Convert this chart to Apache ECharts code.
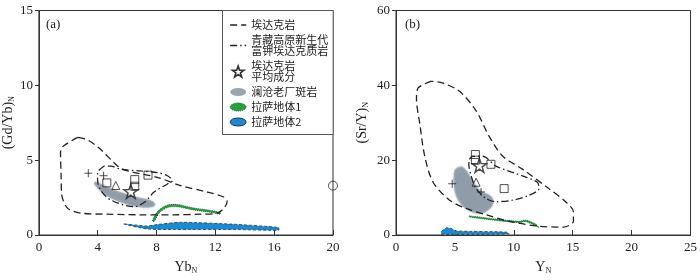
<!DOCTYPE html>
<html>
<head>
<meta charset="utf-8">
<script src="https://cdn.jsdelivr.net/npm/echarts@6/dist/echarts.min.js"></script>
<style>
  html, body { margin: 0; padding: 0; background: #fff; }
  #chart { width: 700px; height: 280px; }
</style>
</head>
<body>
<div id="chart"></div>
<script>
// ---- (a) Yb_N vs (Gd/Yb)_N ----
const adakiteA = [[2.64,6.52],[1.63,5.91],[1.47,5.48],[1.51,3.96],[1.56,2.65],[1.96,1.78],[2.87,1.46],[4.67,1.39],[6.93,1.35],[9.19,1.35],[10.99,1.39],[12.12,1.46],[12.57,1.78],[12.8,2.22],[12.57,2.54],[11.45,2.87],[9.64,3.3],[8.06,3.85],[6.03,4.28],[5.35,4.61],[4.22,5.7],[3.32,6.35],[2.64,6.52]];
const kAdakiteA = [[4.44,4.61],[4.0,4.17],[3.99,3.7],[4.2,3.0],[4.9,2.33],[6.47,1.89],[7.2,2.2],[7.83,2.87],[8.74,3.41],[9.07,3.63],[8.74,3.96],[8.06,4.17],[6.93,4.28],[5.58,4.39],[4.9,4.6],[4.44,4.61]];
const porphyryA = [[3.81,3.52],[3.88,3.3],[4.44,2.77],[5.57,2.22],[6.93,1.89],[7.83,1.96],[7.72,2.22],[6.47,2.54],[5.12,2.98],[4.1,3.42]];
const lhasa1A = [[7.83,0.91],[8.17,1.46],[8.73,1.83],[9.41,1.89],[10.54,1.67],[11.67,1.52],[12.34,1.39],[12.3,1.5],[11.67,1.64],[10.54,1.8],[9.41,2.04],[8.7,1.98],[8.08,1.58],[7.72,0.95]];
const lhasa2A = [[5.76,0.74],[7.38,0.4],[9.19,0.37],[13.25,0.37],[16.3,0.32],[16.3,0.5],[13.25,0.72],[9.64,0.85],[8.06,0.7],[7.38,0.6]];
const avgAdakiteA = [[6.25,2.92]];
const squaresA = [[4.62,3.48],[6.52,3.7],[6.52,3.26],[7.42,4.0]];
const plusA = [[3.36,4.13],[4.4,3.96]];
const triangleA = [[5.23,3.31]];
const circleA = [[20,3.3]];

// ---- (b) Y_N vs (Sr/Y)_N ----
const adakiteB = [[3.0,41.1],[1.88,39.3],[1.74,36.4],[2.02,29.7],[2.44,21.05],[3.15,14.1],[4.55,9.3],[5.96,7.1],[7.67,5.4],[9.6,3.65],[12.13,2.35],[14.2,2.1],[15.06,3.65],[15.06,6.2],[14.4,8.9],[12.97,12.4],[10.73,17.6],[9.06,21.05],[7.92,26.3],[6.8,33.2],[5.39,38.4],[3.98,40.6],[3.0,41.1]];
const kAdakiteB = [[6.23,20.2],[6.5,21.0],[7.36,21.05],[8.49,18.4],[10.73,15.8],[12.0,14.1],[12.13,12.4],[11.29,10.6],[9.88,9.3],[8.49,8.9],[7.64,9.75],[6.8,12.4],[6.38,15.8],[6.18,18.9],[6.23,20.2]];
const porphyryB = [[5.11,17.6],[5.67,18.0],[6.38,15.0],[7.08,11.9],[8.06,10.2],[8.2,8.45],[7.78,6.7],[7.08,5.84],[5.96,7.1],[5.25,9.75],[4.97,13.2],[4.97,16.3]];
const lhasa1B = [[6.23,5.1],[8.49,4.25],[10.45,3.65],[11.0,4.0],[11.85,2.95],[12.13,2.0],[11.8,2.55],[11.0,3.6],[10.45,3.3],[8.49,3.9],[6.23,4.8]];
const lhasa2B = [[3.85,0.9],[4.27,1.93],[4.7,1.75],[5.11,1.1],[9.33,0.8],[9.6,0.3],[3.85,0.2]];
const avgAdakiteB = [[7.08,18.6]];
const squaresB = [[6.74,21.5],[6.74,20.0],[8.06,18.9],[9.18,12.4]];
const plusB = [[4.77,13.7],[7.22,11.5]];
const triangleB = [[6.8,14.1]];

const serif = "'Liberation Serif', 'Times New Roman', serif";
const cjk = "'Noto Sans CJK SC', sans-serif";
const ink = '#222';

const NAME_ADAKITE = '埃达克岩';
const NAME_KADAKITE = '青藏高原新生代\n富钾埃达克质岩';
const NAME_AVG = '埃达克岩\n平均成分';
const NAME_PORPHYRY = '澜沧老厂斑岩';
const NAME_LHASA1 = '拉萨地体1';
const NAME_LHASA2 = '拉萨地体2';

const DASH = [7, 4];
const DASHDOT = [7, 3, 1.5, 3];
const STAR = 'path://M10,0 L12.35,6.76 L19.51,6.91 L13.8,11.24 L15.88,18.09 L10,14 L4.12,18.09 L6.2,11.24 L0.49,6.91 L7.65,6.76 Z';
const PLUS = 'path://M4,0 L4,8 M0,4 L8,4';
const ELLIPSE = 'path://M0,4 A8,4 0 1,1 16,4 A8,4 0 1,1 0,4 Z';

const porphyryStyle = { fill: '#909ca7', stroke: '#a0aab3', lineWidth: 1, shadowBlur: 2, shadowColor: '#a0aab3' };
const lhasa1Style = { fill: '#25a040', stroke: '#17632a', lineWidth: 1, lineDash: [1, 1] };
const lhasa2Style = { fill: '#1a8bd0', stroke: '#1d3550', lineWidth: 0.8, lineDash: [3, 2] };

const outline = (name, pts, idx, dash) => ({
    type: 'line',
    name: name,
    xAxisIndex: idx,
    yAxisIndex: idx,
    data: pts,
    smooth: 0.3,
    symbol: 'none',
    silent: true,
    z: 4,
    itemStyle: { color: ink },
    lineStyle: { color: ink, width: 1.3, type: dash }
});

const patch = (name, pts, idx, style, smooth) => ({
    type: 'custom',
    name: name,
    xAxisIndex: idx,
    yAxisIndex: idx,
    data: pts,
    silent: true,
    z: 2,
    renderItem: (params, api) => {
        if (params.dataIndex !== 0) return null;
        return {
            type: 'polygon',
            shape: { points: pts.map(p => api.coord(p)), smooth: smooth },
            style: style
        };
    }
});

const markers = (name, pts, idx, symbol, size, width) => ({
    type: 'scatter',
    name: name,
    xAxisIndex: idx,
    yAxisIndex: idx,
    data: pts,
    symbol: symbol,
    symbolSize: size,
    clip: false,
    silent: true,
    z: 5,
    itemStyle: { color: 'rgba(255,255,255,0)', borderColor: ink, borderWidth: width || 1 }
});

const axisName = (main, sub) => '{t|' + main + '}{s|' + sub + '}';
const nameRich = {
    t: { fontFamily: serif, fontSize: 14, color: ink, lineHeight: 16 },
    s: { fontFamily: serif, fontSize: 8, color: ink, verticalAlign: 'bottom', lineHeight: 16, padding: [5, 0, 0, 0] }
};

const xAxisOf = (idx, max, interval, name) => ({
    type: 'value',
    gridIndex: idx,
    min: 0,
    max: max,
    interval: interval,
    name: name,
    nameLocation: 'middle',
    nameGap: 24,
    nameTextStyle: { rich: nameRich },
    axisLine: { onZero: false, lineStyle: { color: '#333' } },
    axisTick: { inside: true, length: 5, lineStyle: { color: '#333' } },
    axisLabel: { color: ink, fontFamily: serif, fontSize: 13, margin: 6 },
    splitLine: { show: false }
});

const yAxisOf = (idx, max, interval, name, gap) => ({
    type: 'value',
    gridIndex: idx,
    min: 0,
    max: max,
    interval: interval,
    name: name,
    nameLocation: 'middle',
    nameRotate: 90,
    nameGap: gap,
    nameTextStyle: { rich: nameRich },
    axisLine: { onZero: false, lineStyle: { color: '#333' } },
    axisTick: { inside: false, length: 4, lineStyle: { color: '#333' } },
    axisLabel: { color: ink, fontFamily: serif, fontSize: 13, margin: 6 },
    splitLine: { show: false }
});

const lineLegendItem = name => ({
    name: name,
    itemStyle: { color: 'rgba(0,0,0,0)', borderWidth: 0, opacity: 0 },
    lineStyle: { color: ink, width: 1.3 }
});

const option = {
    animation: false,
    backgroundColor: '#fff',
    title: [
        { text: '(a)', left: 46, top: 18, padding: 0, textStyle: { fontFamily: serif, fontSize: 13, fontWeight: 'normal', color: ink } },
        { text: '(b)', left: 405, top: 18, padding: 0, textStyle: { fontFamily: serif, fontSize: 13, fontWeight: 'normal', color: ink } }
    ],
    grid: [
        { left: 37.5, top: 10.5, width: 295.5, height: 230, show: true, borderColor: '#333', borderWidth: 1 },
        { left: 396, top: 10.5, width: 296.5, height: 230, show: true, borderColor: '#333', borderWidth: 1 }
    ],
    xAxis: [
        xAxisOf(0, 20, 4, axisName('Yb', 'N')),
        xAxisOf(1, 25, 5, axisName('Y', 'N'))
    ],
    yAxis: [
        yAxisOf(0, 15, 5, axisName('(Gd/Yb)', 'N'), 18),
        yAxisOf(1, 60, 20, axisName('(Sr/Y)', 'N'), 26)
    ],
    legend: {
        left: 222.5,
        top: 10.5,
        orient: 'vertical',
        selectedMode: false,
        backgroundColor: '#fff',
        borderColor: '#555',
        borderWidth: 1,
        borderRadius: 0,
        padding: [9, 5, 7, 7],
        itemGap: 4,
        itemWidth: 16,
        itemHeight: 11,
        textStyle: { fontFamily: cjk, fontSize: 11, color: ink, lineHeight: 11 },
        data: [
            lineLegendItem(NAME_ADAKITE),
            lineLegendItem(NAME_KADAKITE),
            { name: NAME_AVG, icon: STAR, itemStyle: { color: '#fff', borderColor: '#000', borderWidth: 1.6 } },
            { name: NAME_PORPHYRY, icon: ELLIPSE, itemStyle: { color: '#9aa5af', borderWidth: 0 } },
            { name: NAME_LHASA1, icon: ELLIPSE, itemStyle: { color: '#25a040', borderColor: '#17632a', borderWidth: 1, borderType: 'dotted' } },
            { name: NAME_LHASA2, icon: ELLIPSE, itemStyle: { color: '#1a8bd0', borderColor: '#1d3550', borderWidth: 1 } }
        ]
    },
    series: [
        patch(NAME_PORPHYRY, porphyryA, 0, porphyryStyle, 0.4),
        patch(NAME_LHASA1, lhasa1A, 0, lhasa1Style, 0.3),
        patch(NAME_LHASA2, lhasa2A, 0, lhasa2Style, 0.2),
        outline(NAME_ADAKITE, adakiteA, 0, DASH),
        outline(NAME_KADAKITE, kAdakiteA, 0, DASHDOT),
        markers(NAME_AVG, avgAdakiteA, 0, STAR, 14, 1.5),
        markers('squaresA', squaresA, 0, 'rect', 8),
        markers('plusA', plusA, 0, PLUS, 8),
        markers('triangleA', triangleA, 0, 'triangle', 8),
        markers('circleA', circleA, 0, 'circle', 9),

        patch(NAME_PORPHYRY, porphyryB, 1, porphyryStyle, 0.4),
        patch(NAME_LHASA1, lhasa1B, 1, lhasa1Style, 0.2),
        patch(NAME_LHASA2, lhasa2B, 1, lhasa2Style, 0.2),
        outline(NAME_ADAKITE, adakiteB, 1, DASH),
        outline(NAME_KADAKITE, kAdakiteB, 1, DASHDOT),
        markers(NAME_AVG, avgAdakiteB, 1, STAR, 14, 1.5),
        markers('squaresB', squaresB, 1, 'rect', 8),
        markers('plusB', plusB, 1, PLUS, 8),
        markers('triangleB', triangleB, 1, 'triangle', 8)
    ]
};

const chart = echarts.init(document.getElementById('chart'));
chart.setOption(option);
</script>
</body>
</html>
